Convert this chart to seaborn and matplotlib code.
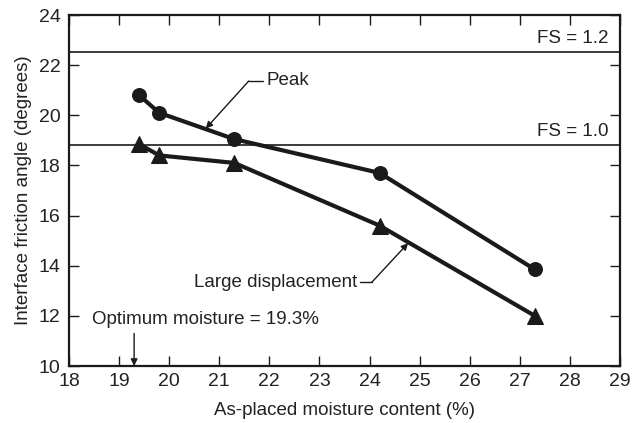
import matplotlib
matplotlib.use("Agg")
import matplotlib.pyplot as plt
import seaborn as sns
import pandas as pd

moisture = [19.4, 19.8, 21.3, 24.2, 27.3]
peak_angle = [20.8, 20.1, 19.05, 17.7, 13.85]
large_angle = [18.85, 18.4, 18.1, 15.6, 12.0]
fs_levels = [22.53, 18.8]
fs_labels = ["FS = 1.2", "FS = 1.0"]
optimum_moisture = 19.3
x_ticks = list(range(18, 30))
y_ticks = list(range(10, 25, 2))

sns.set_theme(style="white")
plt.rcParams["font.family"] = ["Liberation Sans", "DejaVu Sans"]

TXT = 13.5
TICK = 14

df_peak = pd.DataFrame({"x": moisture, "y": peak_angle})
df_large = pd.DataFrame({"x": moisture, "y": large_angle})

fig, ax = plt.subplots(figsize=(6.32, 4.23), dpi=100)
fig.subplots_adjust(left=69/632, right=620/632, top=1-15/423, bottom=1-366/423)

for lvl, lab in zip(fs_levels, fs_labels):
    ax.axhline(lvl, color="#1a1a1a", lw=1.2, zorder=1)
    ax.text(28.78, lvl + 0.2, lab, ha="right", va="bottom", fontsize=TXT, color="#222222")

sns.lineplot(data=df_peak, x="x", y="y", ax=ax, color="#1a1a1a", lw=3.0,
             marker="o", markersize=10, markeredgecolor="#1a1a1a", zorder=3)
sns.lineplot(data=df_large, x="x", y="y", ax=ax, color="#1a1a1a", lw=3.0,
             marker="^", markersize=12, markeredgecolor="#1a1a1a", zorder=3)

# Peak annotation
ax.text(21.95, 21.37, "Peak", ha="left", va="center", fontsize=TXT, color="#222222")
ax.plot([21.59, 21.88], [21.37, 21.37], color="#1a1a1a", lw=1.0)
ax.annotate("", xy=(20.73, 19.47), xytext=(21.59, 21.37),
            arrowprops=dict(arrowstyle="-|>", color="#1a1a1a", lw=1.0,
                            mutation_scale=10, shrinkA=0, shrinkB=0))

# Large displacement annotation
ax.text(23.75, 13.35, "Large displacement", ha="right", va="center", fontsize=TXT, color="#222222")
ax.plot([23.8, 24.05], [13.35, 13.35], color="#1a1a1a", lw=1.0)
ax.annotate("", xy=(24.77, 14.9), xytext=(24.05, 13.35),
            arrowprops=dict(arrowstyle="-|>", color="#1a1a1a", lw=1.0,
                            mutation_scale=10, shrinkA=0, shrinkB=0))

# Optimum moisture annotation
ax.text(18.45, 11.85, "Optimum moisture = 19.3%", ha="left", va="center", fontsize=TXT, color="#222222")
ax.annotate("", xy=(optimum_moisture, 10.0), xytext=(optimum_moisture, 11.3),
            arrowprops=dict(arrowstyle="-|>", color="#1a1a1a", lw=1.0,
                            mutation_scale=10, shrinkA=0, shrinkB=0))

ax.set_xlim(18, 29)
ax.set_ylim(10, 24)
ax.set_xticks(x_ticks)
ax.set_yticks(y_ticks)
ax.tick_params(direction="in", length=7, width=1, top=True, right=True,
               bottom=True, left=True, labelsize=TICK, colors="#1a1a1a")
ax.tick_params(axis="x", pad=5)
ax.tick_params(axis="y", pad=6)
for lab in ax.get_xticklabels() + ax.get_yticklabels():
    lab.set_color("#222222")
for s in ax.spines.values():
    s.set_visible(True)
    s.set_linewidth(1.6)
    s.set_color("#1a1a1a")

ax.set_xlabel("As-placed moisture content (%)", fontsize=TXT, color="#222222", labelpad=9)
ax.set_ylabel("Interface friction angle (degrees)", fontsize=TXT, color="#222222", labelpad=5)

fig.savefig("out.png", dpi=100)
